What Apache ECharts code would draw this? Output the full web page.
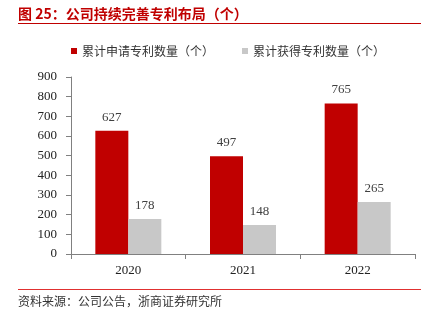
<!DOCTYPE html>
<html><head><meta charset="utf-8">
<script src="https://cdn.jsdelivr.net/npm/echarts@6/dist/echarts.min.js"></script>
<style>html,body{margin:0;padding:0;background:#fff}#c{width:441px;height:322px}</style>
</head><body><div id="c"></div>
<script>
var categories = ['2020', '2021', '2022'];
var appliedPatents = [627, 497, 765];
var grantedPatents = [178, 148, 265];
var seriesNames = ['累计申请专利数量（个）', '累计获得专利数量（个）'];
var yTicks = [0, 100, 200, 300, 400, 500, 600, 700, 800, 900];
var titleText = '图 25：公司持续完善专利布局（个）';
var sourceText = '资料来源：公司公告，浙商证券研究所';

var chart = echarts.init(document.getElementById('c'), null, {renderer: 'canvas'});
var serif = '"Liberation Serif", "Times New Roman", serif';
var cjk = '"Noto Sans CJK SC", sans-serif';
var labelStyle = {show: true, position: 'top', distance: 7, color: '#404040', fontFamily: serif, fontSize: 13};
chart.setOption({
  animation: false,
  graphic: [
    {type: 'text', left: 18, top: 7, style: {text: titleText, fill: '#C00000', font: 'bold 14px ' + cjk}},
    {type: 'line', shape: {x1: 18, y1: 23.5, x2: 421, y2: 23.5}, style: {stroke: '#C00000', lineWidth: 1}},
    {type: 'line', shape: {x1: 18, y1: 289.5, x2: 421, y2: 289.5}, style: {stroke: '#E03030', lineWidth: 1}},
    {type: 'text', left: 18, top: 295, style: {text: sourceText, fill: '#333', font: '12px ' + cjk}}
  ],
  legend: {
    top: 40, left: 66, itemWidth: 6, itemHeight: 6, itemGap: 28, icon: 'rect',
    textStyle: {fontFamily: cjk, fontSize: 12, color: '#333'},
    data: seriesNames
  },
  grid: {left: 71, right: 26, top: 77, bottom: 68, containLabel: false},
  xAxis: {
    type: 'category', data: categories,
    axisLine: {lineStyle: {color: '#808080'}},
    axisTick: {show: true, lineStyle: {color: '#808080'}, length: 5},
    axisLabel: {color: '#222', fontFamily: serif, fontSize: 13, margin: 10}
  },
  yAxis: {
    type: 'value', min: yTicks[0], max: yTicks[yTicks.length - 1], interval: 100,
    splitLine: {show: false},
    axisLine: {show: true, lineStyle: {color: '#808080'}},
    axisTick: {show: true, lineStyle: {color: '#808080'}, length: 5},
    axisLabel: {color: '#222', fontFamily: serif, fontSize: 13, margin: 14}
  },
  series: [
    {name: seriesNames[0], type: 'bar', data: appliedPatents, barWidth: 33, barGap: '0%',
     itemStyle: {color: '#C00000'}, label: labelStyle},
    {name: seriesNames[1], type: 'bar', data: grantedPatents, barWidth: 33, barGap: '0%',
     itemStyle: {color: '#C8C8C8'}, label: labelStyle}
  ]
});
</script></body></html>
